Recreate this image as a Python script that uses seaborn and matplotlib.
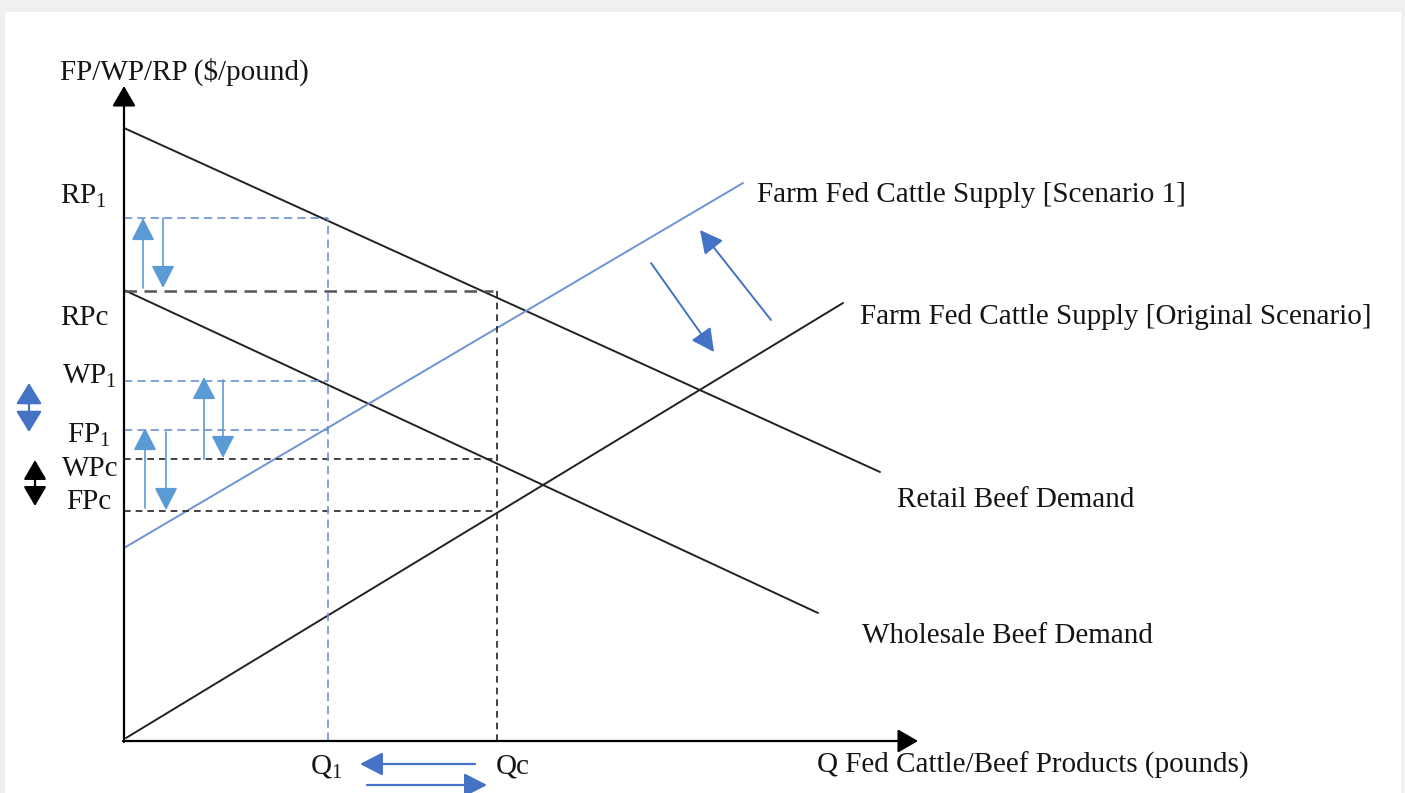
import matplotlib
matplotlib.use("Agg")
import matplotlib.pyplot as plt
from matplotlib.patches import Rectangle
import pandas as pd
import seaborn as sns

sns.set_theme(style="white")
plt.rcParams["font.family"] = ["Liberation Serif", "DejaVu Serif"]
plt.rcParams["mathtext.fontset"] = "custom"
plt.rcParams["mathtext.rm"] = "Liberation Serif"
plt.rcParams["mathtext.it"] = "Liberation Serif"
plt.rcParams["text.color"] = "#151515"

# curves (quantity, price), origin at the axes corner
retail_q = [0, 756]
retail_p = [613, 269]
wholesale_q = [0, 694]
wholesale_p = [451, 128]
supply_orig_q = [2, 719]
supply_orig_p = [3, 438]
supply_s1_q = [0, 619]
supply_s1_p = [193, 558]

# equilibrium levels
Q1, Qc = 204, 373
RP1, RPc = 523, 450
WP1, WPc = 360, 282
FP1, FPc = 311, 230

price_labels = ["RP$_1$", "RPc", "WP$_1$", "FP$_1$", "WPc", "FPc"]
price_label_y = [545, 423, 365, 306, 272, 239]
price_label_x = [-64, -64, -62, -57, -62, -58]

curve_labels = ["Farm Fed Cattle Supply [Scenario 1]",
                "Farm Fed Cattle Supply [Original Scenario]",
                "Retail Beef Demand", "Wholesale Beef Demand"]
curve_label_x = [633, 736, 773, 738]
curve_label_y = [546, 424, 241, 105]

BLUE = "#6C93D6"
LBLUE = "#5B9BD5"
DBLUE = "#4472C4"
INK = "#222222"

fig = plt.figure(figsize=(14.05, 7.93), dpi=100, facecolor="#F0F0F0")
ax = fig.add_axes([0, 0, 1, 1])
ax.set_facecolor("none")
ax.set_xlim(-124, 1281)
ax.set_ylim(-52, 741)
ax.axis("off")
ax.add_patch(Rectangle((5 / 1405, 0), 1396 / 1405, 781 / 793,
                       transform=fig.transFigure, facecolor="white",
                       edgecolor="none", zorder=-10))


def arrow(x0, y0, x1, y1, color, style="-|>", lw=1.2, hl=0.7, hw=0.36):
    ax.annotate("", xy=(x1, y1), xytext=(x0, y0),
                arrowprops=dict(arrowstyle=f"{style},head_length={hl},head_width={hw}",
                                color=color, lw=lw, mutation_scale=20,
                                shrinkA=0, shrinkB=0))


# axes with arrow heads
arrow(0, -1, 0, 655, "black", lw=1.6, hl=0.62, hw=0.36)
arrow(-1, 0, 794, 0, "black", lw=1.6, hl=0.62, hw=0.36)

# demand and supply curves
sns.lineplot(x=retail_q, y=retail_p, color=INK, lw=1.4, ax=ax)
sns.lineplot(x=wholesale_q, y=wholesale_p, color=INK, lw=1.4, ax=ax)
sns.lineplot(x=supply_orig_q, y=supply_orig_p, color=INK, lw=1.4, ax=ax)
sns.lineplot(x=supply_s1_q, y=supply_s1_p, color=BLUE, lw=1.4, ax=ax)

# original equilibrium guides
ax.plot([0, Qc - 4], [RPc, RPc], color="#555555", lw=1.8, ls=(0, (5, 3)))
ax.plot([Qc, Qc], [0, RPc], color=INK, lw=1.2, ls=(0, (4, 3)))
ax.plot([0, Qc], [WPc, WPc], color=INK, lw=1.2, ls=(0, (4, 3)))
ax.plot([0, Qc], [FPc, FPc], color=INK, lw=1.2, ls=(0, (4, 3)))

# scenario 1 guides
ax.plot([Q1, Q1], [0, RP1], color=BLUE, lw=1.2, ls=(0, (5, 3)))
for lvl in [RP1, WP1, FP1]:
    ax.plot([0, Q1], [lvl, lvl], color=BLUE, lw=1.2, ls=(0, (5, 3)))

# price change arrows
arrow(19, 453, 19, 523, LBLUE)
arrow(39, 523, 39, 453, LBLUE)
arrow(80, 282, 80, 364, LBLUE)
arrow(99, 361, 99, 283, LBLUE)
arrow(21, 233, 21, 313, LBLUE)
arrow(42, 309, 42, 231, LBLUE)

# margin arrows on the left
arrow(-95, 309, -95, 358, DBLUE, style="<|-|>", lw=1.6, hl=0.65, hw=0.4)
arrow(-89, 235, -89, 281, "black", style="<|-|>", lw=1.6, hl=0.6, hw=0.35)

# quantity arrows
arrow(351, -23, 236, -23, DBLUE, lw=1.6)
arrow(243, -44, 363, -44, DBLUE, lw=1.6)

# supply shift arrows
arrow(527, 478, 590, 389, DBLUE, lw=1.4)
arrow(647, 421, 576, 511, DBLUE, lw=1.4)

fs = 21
ax.text(-64, 669, "FP/WP/RP ($/pound)", fontsize=fs, ha="left", va="center")
for lab, x, y in zip(price_labels, price_label_x, price_label_y):
    ax.text(x, y, lab, fontsize=fs, ha="left", va="center")
ax.text(186, -26, "Q$_1$", fontsize=fs, ha="left", va="center")
ax.text(372, -26, "Qc", fontsize=fs, ha="left", va="center")
ax.text(693, -24, "Q Fed Cattle/Beef Products (pounds)", fontsize=fs, ha="left", va="center")
for lab, x, y in zip(curve_labels, curve_label_x, curve_label_y):
    ax.text(x, y, lab, fontsize=fs, ha="left", va="center")

fig.savefig("out.png", dpi=100, facecolor=fig.get_facecolor())
